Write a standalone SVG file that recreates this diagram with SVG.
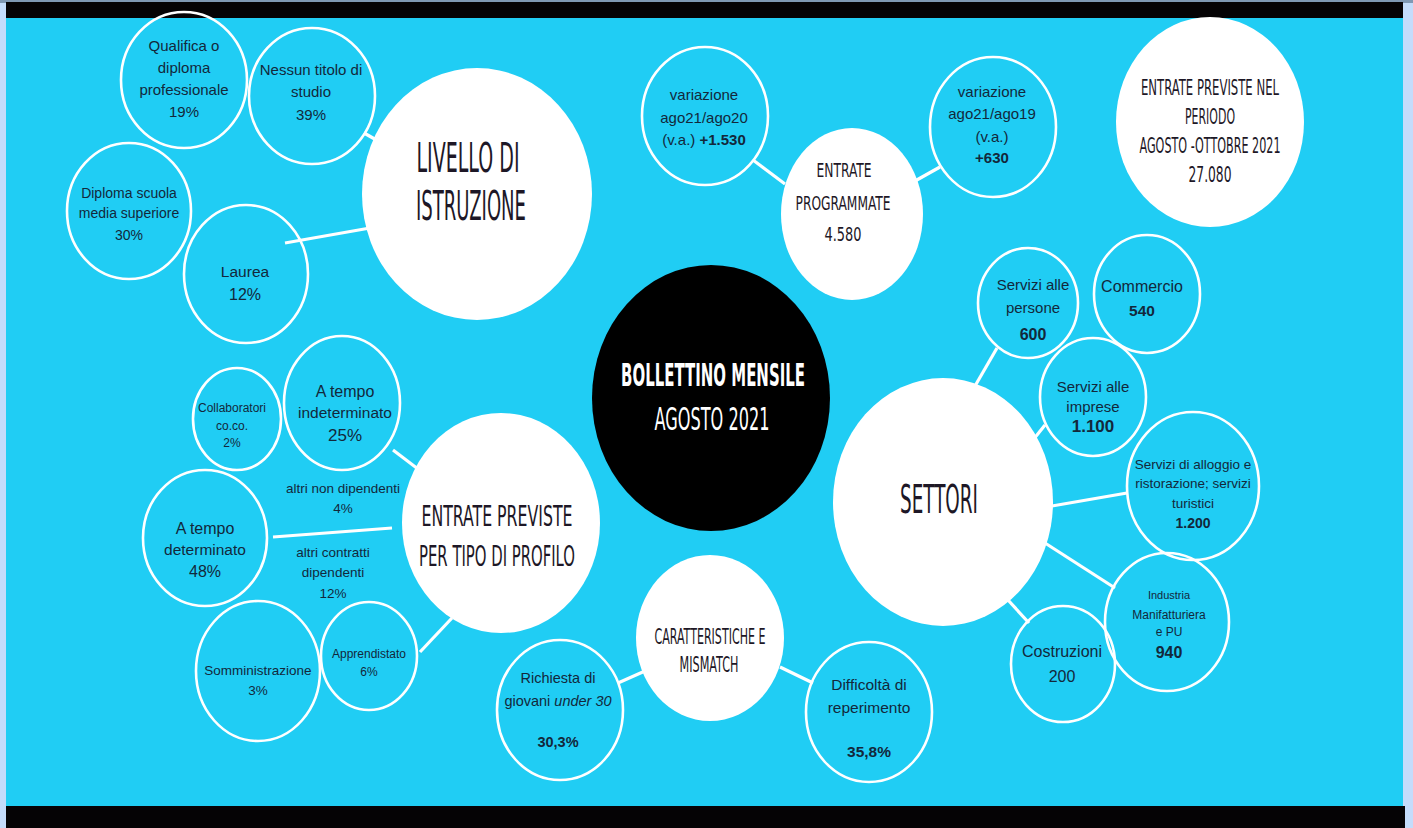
<svg xmlns="http://www.w3.org/2000/svg" width="1413" height="828" viewBox="0 0 1413 828">
<defs>
<style>
.bg{fill:#20cdf4}
.ring{fill:none;stroke:#ffffff;stroke-width:2.6}
.big{fill:#ffffff}
.conn line{stroke:#ffffff;stroke-width:3.2;stroke-linecap:butt}
.t{font-family:"Liberation Sans",Arial,sans-serif;fill:#13283b;text-anchor:middle}
.b{font-weight:bold}
.h{font-family:"Liberation Sans Narrow","DejaVu Sans Condensed","Liberation Sans",sans-serif;fill:#1d1726;text-anchor:middle}
.hw{font-family:"Liberation Sans Narrow","DejaVu Sans Condensed","Liberation Sans",sans-serif;fill:#ffffff;text-anchor:middle;font-weight:bold}
.hw.n{font-weight:normal}
</style>
</defs>
<rect x="0" y="0" width="1413" height="828" fill="#c4dcfb"/>
<rect x="0" y="0" width="1413" height="3" fill="#7f98b3"/>
<rect class="bg" x="6" y="18" width="1397" height="788"/>
<rect x="6" y="2" width="1397" height="16" fill="#050305"/>
<rect x="6" y="806" width="1399" height="22" fill="#050305"/>

<g id="connectors" class="conn">
<line x1="364" y1="133" x2="380" y2="142"/>
<line x1="285" y1="243" x2="370" y2="228"/>
<line x1="753" y1="160" x2="785" y2="184"/>
<line x1="915" y1="181" x2="940" y2="167"/>
<line x1="975" y1="386" x2="997" y2="348"/>
<line x1="1033" y1="440" x2="1045" y2="425"/>
<line x1="1052" y1="506" x2="1127" y2="493"/>
<line x1="1045" y1="543" x2="1115" y2="588"/>
<line x1="1008" y1="600" x2="1029" y2="623"/>
<line x1="393" y1="450" x2="418" y2="469"/>
<line x1="273" y1="537" x2="392" y2="528"/>
<line x1="420" y1="652" x2="452" y2="618"/>
<line x1="618" y1="683" x2="645" y2="671"/>
<line x1="780" y1="667" x2="813" y2="683"/>
</g>

<g id="qualifica">
<ellipse class="ring" cx="184" cy="80" rx="63" ry="68"/>
<text class="t" font-size="15" x="184" y="51">Qualifica o</text>
<text class="t" font-size="15" x="184" y="73">diploma</text>
<text class="t" font-size="15" x="184" y="95">professionale</text>
<text class="t" font-size="15" x="184" y="117">19%</text>
</g>
<g id="nessun-titolo">
<ellipse class="ring" cx="312" cy="96" rx="63" ry="68"/>
<text class="t" font-size="15" x="311" y="75">Nessun titolo di</text>
<text class="t" font-size="15" x="311" y="97">studio</text>
<text class="t" font-size="15" x="311" y="120">39%</text>
</g>
<g id="diploma-superiore">
<ellipse class="ring" cx="129" cy="211" rx="62" ry="68"/>
<text class="t" font-size="14" x="129" y="198">Diploma scuola</text>
<text class="t" font-size="14" x="129" y="218">media superiore</text>
<text class="t" font-size="14" x="129" y="240">30%</text>
</g>
<g id="laurea">
<ellipse class="ring" cx="246" cy="274" rx="62" ry="69"/>
<text class="t" font-size="15.5" x="245" y="277">Laurea</text>
<text class="t" font-size="16" x="245" y="300">12%</text>
</g>
<g id="livello-istruzione">
<ellipse class="big" cx="477" cy="194" rx="115" ry="126"/>
<text class="h" font-size="41" x="468" y="172" textLength="103" lengthAdjust="spacingAndGlyphs">LIVELLO DI</text>
<text class="h" font-size="41" x="471" y="220" textLength="110" lengthAdjust="spacingAndGlyphs">ISTRUZIONE</text>
</g>

<g id="variazione-ago20">
<ellipse class="ring" cx="705" cy="116" rx="63" ry="69"/>
<text class="t" font-size="15" x="704" y="100">variazione</text>
<text class="t" font-size="15" x="704" y="123">ago21/ago20</text>
<text class="t" font-size="15" x="704" y="145">(v.a.) <tspan class="b">+1.530</tspan></text>
</g>
<g id="entrate-programmate">
<ellipse class="big" cx="852" cy="214" rx="71" ry="86"/>
<text class="h" font-size="20" x="844" y="177" textLength="55" lengthAdjust="spacingAndGlyphs">ENTRATE</text>
<text class="h" font-size="20" x="843" y="210" textLength="95" lengthAdjust="spacingAndGlyphs">PROGRAMMATE</text>
<text class="h" font-size="20" x="843" y="241" textLength="37" lengthAdjust="spacingAndGlyphs">4.580</text>
</g>
<g id="variazione-ago19">
<ellipse class="ring" cx="993" cy="127" rx="63" ry="70"/>
<text class="t" font-size="15" x="992" y="97">variazione</text>
<text class="t" font-size="15" x="992" y="119">ago21/ago19</text>
<text class="t" font-size="15" x="992" y="142">(v.a.)</text>
<text class="t b" font-size="15" x="992" y="163">+630</text>
</g>
<g id="entrate-previste-periodo">
<ellipse class="big" cx="1210" cy="122" rx="94" ry="105"/>
<text class="h" font-size="21" x="1210" y="95" textLength="138" lengthAdjust="spacingAndGlyphs">ENTRATE PREVISTE NEL</text>
<text class="h" font-size="21" x="1210" y="124" textLength="50" lengthAdjust="spacingAndGlyphs">PERIODO</text>
<text class="h" font-size="21" x="1210" y="153" textLength="141" lengthAdjust="spacingAndGlyphs">AGOSTO -OTTOBRE 2021</text>
<text class="h" font-size="21" x="1210" y="182" textLength="43" lengthAdjust="spacingAndGlyphs">27.080</text>
</g>

<g id="bollettino">
<ellipse cx="711" cy="398" rx="119" ry="133" fill="#000000"/>
<text class="hw" font-size="32" x="713" y="386" textLength="184" lengthAdjust="spacingAndGlyphs">BOLLETTINO MENSILE</text>
<text class="hw n" font-size="32" x="712" y="430" textLength="115" lengthAdjust="spacingAndGlyphs">AGOSTO 2021</text>
</g>

<g id="settori">
<ellipse class="big" cx="943" cy="502" rx="110" ry="124"/>
<text class="h" font-size="39" x="939" y="513" textLength="78" lengthAdjust="spacingAndGlyphs">SETTORI</text>
</g>
<g id="servizi-persone">
<ellipse class="ring" cx="1028" cy="303" rx="50" ry="55"/>
<text class="t" font-size="15" x="1033" y="290">Servizi alle</text>
<text class="t" font-size="15" x="1033" y="313">persone</text>
<text class="t b" font-size="16" x="1033" y="340">600</text>
</g>
<g id="commercio">
<ellipse class="ring" cx="1147" cy="294" rx="53" ry="59"/>
<text class="t" font-size="16" x="1142" y="292">Commercio</text>
<text class="t b" font-size="15.5" x="1142" y="316">540</text>
</g>
<g id="servizi-imprese">
<ellipse class="ring" cx="1093" cy="397" rx="53" ry="59"/>
<text class="t" font-size="15" x="1093" y="392">Servizi alle</text>
<text class="t" font-size="15" x="1093" y="412">imprese</text>
<text class="t b" font-size="17" x="1093" y="432">1.100</text>
</g>
<g id="servizi-alloggio">
<ellipse class="ring" cx="1193" cy="486" rx="66" ry="74"/>
<text class="t" font-size="13.5" x="1193" y="469">Servizi di alloggio e</text>
<text class="t" font-size="13.5" x="1193" y="488">ristorazione; servizi</text>
<text class="t" font-size="13.5" x="1193" y="508">turistici</text>
<text class="t b" font-size="14" x="1193" y="528">1.200</text>
</g>
<g id="industria">
<ellipse class="ring" cx="1167" cy="622" rx="62" ry="69"/>
<text class="t" font-size="11" x="1169" y="599">Industria</text>
<text class="t" font-size="12" x="1169" y="619">Manifatturiera</text>
<text class="t" font-size="12" x="1169" y="636">e PU</text>
<text class="t b" font-size="16" x="1169" y="658">940</text>
</g>
<g id="costruzioni">
<ellipse class="ring" cx="1063" cy="664" rx="52" ry="58"/>
<text class="t" font-size="16" x="1062" y="657">Costruzioni</text>
<text class="t" font-size="16" x="1062" y="682">200</text>
</g>

<g id="collaboratori">
<ellipse class="ring" cx="237" cy="419" rx="44" ry="51"/>
<text class="t" font-size="12" x="232" y="412">Collaboratori</text>
<text class="t" font-size="12" x="232" y="430">co.co.</text>
<text class="t" font-size="12" x="232" y="447">2%</text>
</g>
<g id="tempo-indeterminato">
<ellipse class="ring" cx="342" cy="403" rx="58" ry="67"/>
<text class="t" font-size="16" x="345" y="397">A tempo</text>
<text class="t" font-size="15.5" x="345" y="418">indeterminato</text>
<text class="t" font-size="17" x="345" y="441">25%</text>
</g>
<g id="altri-non-dipendenti">
<text class="t" font-size="13.5" x="343" y="493">altri non dipendenti</text>
<text class="t" font-size="13.5" x="343" y="513">4%</text>
</g>
<g id="tempo-determinato">
<ellipse class="ring" cx="205" cy="538" rx="62" ry="68"/>
<text class="t" font-size="16" x="205" y="534">A tempo</text>
<text class="t" font-size="15.5" x="205" y="555">determinato</text>
<text class="t" font-size="16" x="205" y="577">48%</text>
</g>
<g id="altri-contratti">
<text class="t" font-size="13.5" x="333" y="557">altri contratti</text>
<text class="t" font-size="13.5" x="333" y="577">dipendenti</text>
<text class="t" font-size="13.5" x="333" y="598">12%</text>
</g>
<g id="somministrazione">
<ellipse class="ring" cx="258" cy="671" rx="62" ry="70"/>
<text class="t" font-size="13.5" x="258" y="675">Somministrazione</text>
<text class="t" font-size="13.5" x="258" y="695">3%</text>
</g>
<g id="apprendistato">
<ellipse class="ring" cx="369" cy="656" rx="48" ry="54"/>
<text class="t" font-size="12" x="369" y="658">Apprendistato</text>
<text class="t" font-size="12" x="369" y="676">6%</text>
</g>
<g id="entrate-profilo">
<ellipse class="big" cx="501" cy="523" rx="99" ry="110"/>
<text class="h" font-size="29" x="497" y="526" textLength="151" lengthAdjust="spacingAndGlyphs">ENTRATE PREVISTE</text>
<text class="h" font-size="29" x="497" y="566" textLength="156" lengthAdjust="spacingAndGlyphs">PER TIPO DI PROFILO</text>
</g>

<g id="caratteristiche">
<ellipse class="big" cx="710" cy="638" rx="74" ry="83"/>
<text class="h" font-size="22" x="710" y="644" textLength="111" lengthAdjust="spacingAndGlyphs">CARATTERISTICHE E</text>
<text class="h" font-size="22" x="709" y="672" textLength="59" lengthAdjust="spacingAndGlyphs">MISMATCH</text>
</g>
<g id="richiesta-giovani">
<ellipse class="ring" cx="560" cy="710" rx="63" ry="70"/>
<text class="t" font-size="14.5" x="558" y="683">Richiesta di</text>
<text class="t" font-size="14.5" x="558" y="706">giovani <tspan font-style="italic">under 30</tspan></text>
<text class="t b" font-size="14.5" x="558" y="747">30,3%</text>
</g>
<g id="difficolta">
<ellipse class="ring" cx="869" cy="712" rx="63" ry="70"/>
<text class="t" font-size="15.5" x="869" y="690">Difficoltà di</text>
<text class="t" font-size="15.5" x="869" y="713">reperimento</text>
<text class="t b" font-size="15.5" x="869" y="757">35,8%</text>
</g>
</svg>
